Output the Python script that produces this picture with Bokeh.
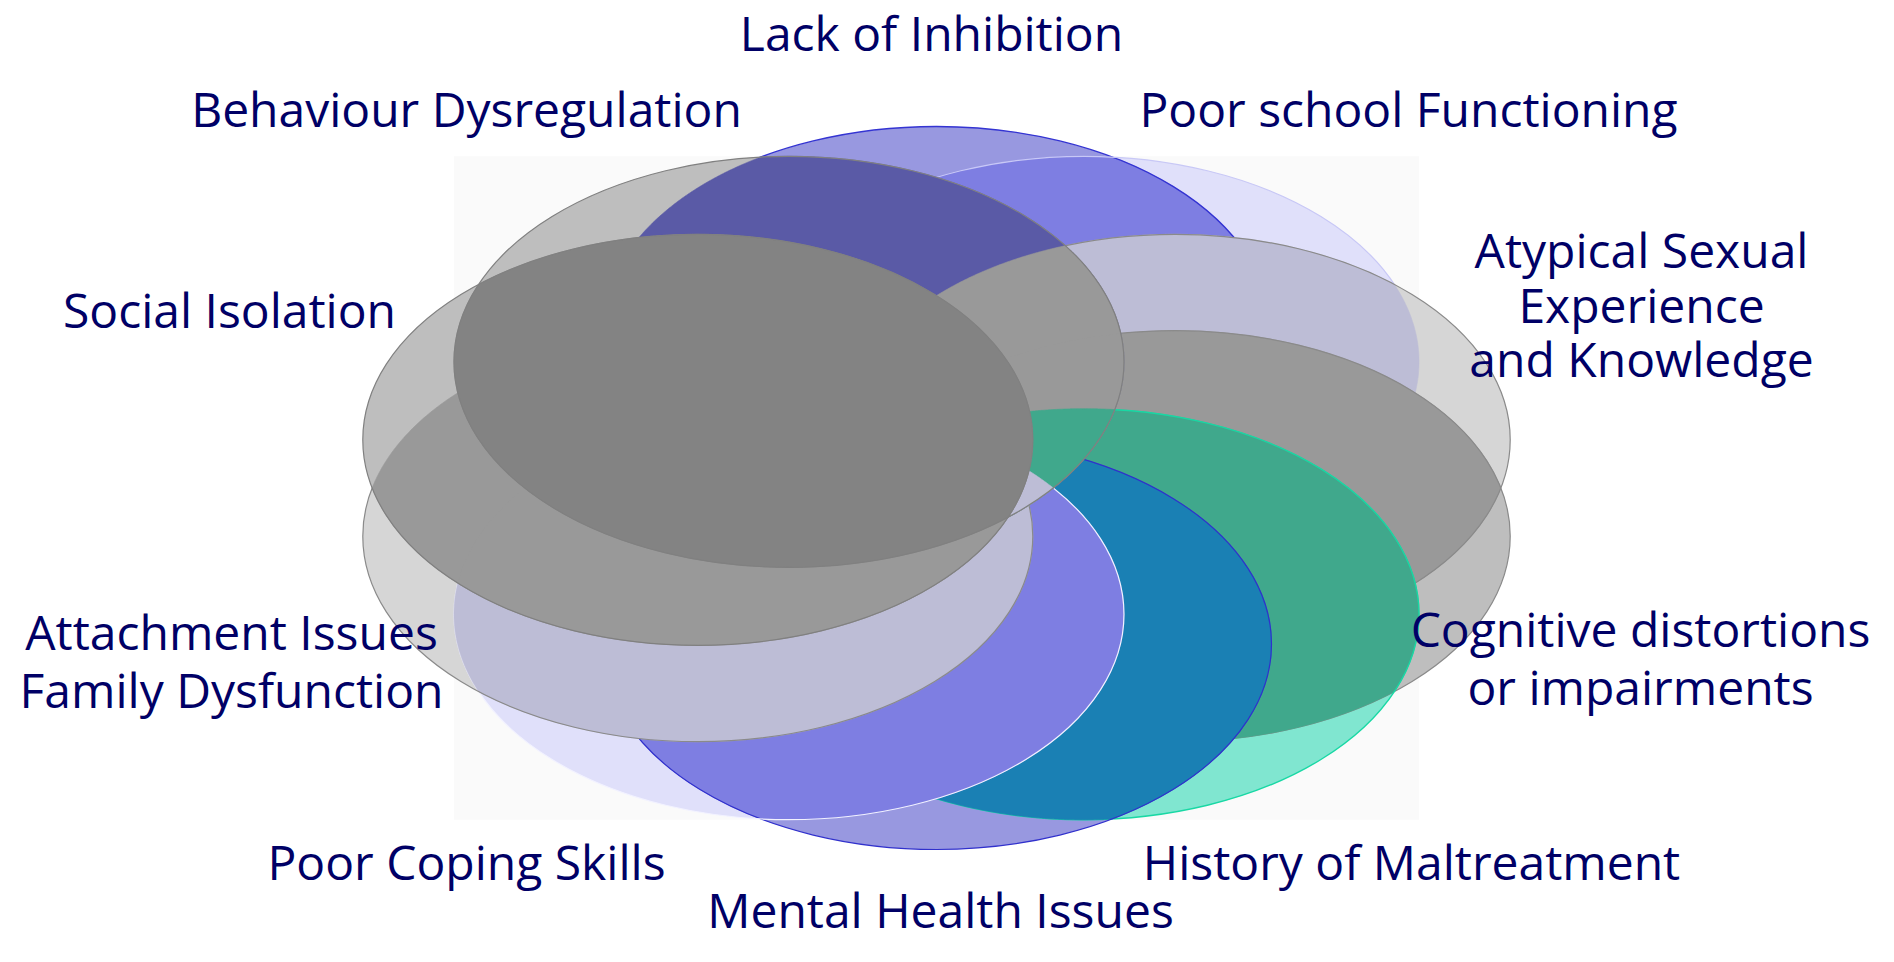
import numpy as np
from bokeh.plotting import figure
from bokeh.models import Range1d
from bokeh.core.properties import value
from bokeh.embed import file_html
from bokeh.resources import INLINE

# ---------------- data ----------------
# risk factors, clockwise from the top
factors = ["Lack of Inhibition", "Poor school Functioning",
           "Atypical Sexual Experience and Knowledge", "Cognitive distortions or impairments",
           "History of Maltreatment", "Mental Health Issues", "Poor Coping Skills",
           "Attachment Issues Family Dysfunction", "Social Isolation", "Behaviour Dysregulation"]
label_lines = [["Lack of Inhibition"], ["Poor school Functioning"],
               ["Atypical Sexual", "Experience", "and Knowledge"],
               ["Cognitive distortions", "or impairments"],
               ["History of Maltreatment"], ["Mental Health Issues"], ["Poor Coping Skills"],
               ["Attachment Issues", "Family Dysfunction"], ["Social Isolation"],
               ["Behaviour Dysregulation"]]
angles_deg = [90, 54, 18, -18, -54, -90, -126, -162, 162, 126]

# ---------------- styles / layout ----------------
L, PS, AT, CG, HM, MH, PC, AF, SI, BD = range(10)
solo_fill = ["#9898e0", "#e0e0fa", "#d6d6d6", "#bebebe", "#80e6d0",
             "#9898e0", "#e0e0fa", "#d6d6d6", "#bebebe", "#bebebe"]
pair_fill = {
    (L, PS): "#7e7ee2", (MH, PC): "#7e7ee2",
    (AT, PS): "#bdbdd6", (AF, PC): "#bdbdd6", (BD, PC): "#bdbdd6",
    (CG, AT): "#999999", (BD, AT): "#999999", (BD, CG): "#999999",
    (SI, AF): "#999999", (SI, PC): "#999999",
    (HM, CG): "#40a88c", (BD, HM): "#40a88c",
    (HM, MH): "#1a80b4",
    (BD, L): "#5a5aa6",
    (SI, BD): "#838383",
}
edge_col = ["#3434d2", "#c8c8f6", "#8a8a8a", "#8a8a8a", "#18d8a4",
            "#3030cc", "#f2f2ff", "#8a8a8a", "#808080", "#808080"]

CX, CY = 936.0, 487.5          # centre of the ring
RING_A, RING_B = 251.0, 156.0  # ring radii
RX, RY = 335.0, 205.5          # ellipse semi-axes

ang = np.radians(angles_deg)
ex = CX + RING_A * np.cos(ang)
ey = CY - RING_B * np.sin(ang)

TXT_DY = -21   # svg alphabetic-baseline correction
label_pos = [(931, 53), (1408, 129), (1641, 270), (1640, 649), (1411, 882),
             (940, 930), (466, 882), (231, 652), (229, 330), (466, 129)]
line_gap = [0, 0, 54.5, 58, 0, 0, 0, 58, 0, 0]

W, H = 1878, 946
p = figure(width=W, height=H, x_range=Range1d(0, W), y_range=Range1d(H, 0),
           output_backend="svg", toolbar_location=None, min_border=0,
           background_fill_color="white", border_fill_color="white")
p.axis.visible = False
p.grid.visible = False
p.outline_line_color = None

# faint panel behind the ring (bounding box of the outer ellipses)
p.quad(left=[ex[BD] - RX], right=[ex[PS] + RX], top=[ey[BD] - RY], bottom=[ey[PC] + RY],
       fill_color="#fafafa", line_color=None)

tt = np.linspace(0, 2 * np.pi, 1440, endpoint=False)


def inside(j, x, y):
    return ((x - ex[j]) / RX) ** 2 + ((y - ey[j]) / RY) ** 2 <= 1.0 + 1e-9


def region(idx):
    xs, ys = [], []
    for i in idx:
        bx = ex[i] + RX * np.cos(tt)
        by = ey[i] + RY * np.sin(tt)
        m = np.ones_like(bx, dtype=bool)
        for j in idx:
            if j != i:
                m &= inside(j, bx, by)
        xs.append(bx[m]); ys.append(by[m])
    x = np.concatenate(xs); y = np.concatenate(ys)
    if len(x) < 3:
        return None
    mx, my = x.mean(), y.mean()
    o = np.argsort(np.arctan2(y - my, x - mx))
    return x[o], y[o]


def base(i):
    p.ellipse(x=[ex[i]], y=[ey[i]], width=[2 * RX], height=[2 * RY],
              fill_color=solo_fill[i], line_color=None)


def pair(i, j):
    r = region((i, j))
    if r is None:
        return
    c = pair_fill[(i, j)]
    p.patch(x=r[0], y=r[1], fill_color=c, line_color=c, line_width=0.6)


def edge(i, w=1.2):
    p.ellipse(x=[ex[i]], y=[ey[i]], width=[2 * RX], height=[2 * RY],
              fill_color=None, line_color=edge_col[i], line_width=w)


base(PS); base(PC); base(L); base(MH); base(HM)
pair(L, PS)
edge(L, 1.4); edge(PS, 1.2)
base(AT); base(AF)
pair(AT, PS)
base(CG)
pair(CG, AT)
edge(AT); edge(CG)
pair(HM, CG)
edge(HM, 1.4)
pair(HM, MH)
pair(MH, PC)
edge(MH, 1.2); edge(PC, 1.2)
pair(AF, PC)
edge(AF)
base(BD)
pair(BD, L); pair(BD, AT); pair(BD, CG); pair(BD, HM); pair(BD, PC)
base(SI)
pair(SI, AF); pair(SI, PC); pair(SI, BD)
edge(SI); edge(BD)

# labels
xs, ys, ts = [], [], []
for k, lines in enumerate(label_lines):
    lx, ly = label_pos[k]
    for n, t in enumerate(lines):
        xs.append(lx); ys.append(ly + n * line_gap[k] + TXT_DY); ts.append(t)
p.text(x=xs, y=ys, text=ts, text_align="center", text_baseline="alphabetic",
       text_font=value("Open Sans"), text_font_size="48px", text_color="#000066")

open("out.html", "w").write(file_html(p, INLINE))
